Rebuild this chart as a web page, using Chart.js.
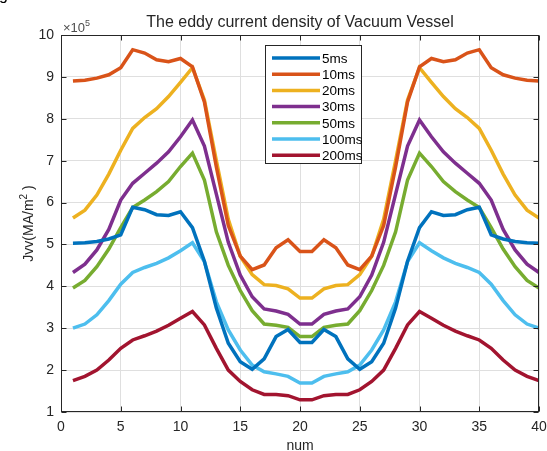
<!DOCTYPE html>
<html>
<head>
<meta charset="utf-8">
<script src="https://cdn.jsdelivr.net/npm/chart.js@4.4.1/dist/chart.umd.min.js"></script>
<style>
  html, body { margin: 0; padding: 0; background: #fff; }
  #wrap { width: 547px; height: 451px; }
</style>
</head>
<body>
<div id="wrap"><canvas id="eddyChart" width="547" height="451"></canvas></div>
<script>
// x positions (num) and eddy current density, in units of 1e5 MA/m^2
const num = [1, 2, 3, 4, 5, 6, 7, 8, 9, 10, 11, 12, 13, 14, 15, 16, 17, 18, 19, 20,
  21, 22, 23, 24, 25, 26, 27, 28, 29, 30, 31, 32, 33, 34, 35, 36, 37, 38, 39, 40];

const jvv5ms = [5.03, 5.04, 5.07, 5.13, 5.23, 5.89, 5.83, 5.71, 5.69, 5.78, 5.40, 4.60, 3.48, 2.64, 2.20, 2.02, 2.27, 2.80, 2.97, 2.66,
  2.66, 2.97, 2.80, 2.27, 2.02, 2.20, 2.64, 3.48, 4.60, 5.40, 5.78, 5.69, 5.71, 5.83, 5.89, 5.23, 5.13, 5.07, 5.04, 5.03];
const jvv10ms = [8.90, 8.92, 8.97, 9.05, 9.22, 9.65, 9.57, 9.41, 9.36, 9.44, 9.24, 8.40, 6.85, 5.45, 4.72, 4.40, 4.51, 4.92, 5.11, 4.83,
  4.83, 5.11, 4.92, 4.51, 4.40, 4.72, 5.45, 6.85, 8.40, 9.24, 9.44, 9.36, 9.41, 9.57, 9.65, 9.22, 9.05, 8.97, 8.92, 8.90];
const jvv20ms = [5.63, 5.82, 6.18, 6.68, 7.25, 7.77, 8.03, 8.24, 8.53, 8.87, 9.22, 8.45, 7.00, 5.60, 4.72, 4.28, 4.04, 4.02, 3.94, 3.72,
  3.72, 3.94, 4.02, 4.04, 4.28, 4.72, 5.60, 7.00, 8.45, 9.22, 8.87, 8.53, 8.24, 8.03, 7.77, 7.25, 6.68, 6.18, 5.82, 5.63];
const jvv30ms = [4.33, 4.53, 4.87, 5.36, 6.06, 6.46, 6.70, 6.94, 7.21, 7.57, 7.97, 7.35, 6.20, 5.05, 4.27, 3.75, 3.46, 3.41, 3.33, 3.10,
  3.10, 3.33, 3.41, 3.46, 3.75, 4.27, 5.05, 6.20, 7.35, 7.97, 7.57, 7.21, 6.94, 6.70, 6.46, 6.06, 5.36, 4.87, 4.53, 4.33];
const jvv50ms = [3.96, 4.14, 4.47, 4.89, 5.40, 5.88, 6.06, 6.26, 6.50, 6.86, 7.18, 6.54, 5.30, 4.50, 3.90, 3.42, 3.10, 3.07, 3.02, 2.80,
  2.80, 3.02, 3.07, 3.10, 3.42, 3.90, 4.50, 5.30, 6.54, 7.18, 6.86, 6.50, 6.26, 6.06, 5.88, 5.40, 4.89, 4.47, 4.14, 3.96];
const jvv100ms = [3.00, 3.10, 3.32, 3.66, 4.05, 4.33, 4.45, 4.55, 4.68, 4.85, 5.04, 4.59, 3.63, 2.96, 2.48, 2.12, 1.96, 1.91, 1.85, 1.69,
  1.69, 1.85, 1.91, 1.96, 2.12, 2.48, 2.96, 3.63, 4.59, 5.04, 4.85, 4.68, 4.55, 4.45, 4.33, 4.05, 3.66, 3.32, 3.10, 3.00];
const jvv200ms = [1.75, 1.85, 2.00, 2.24, 2.52, 2.72, 2.82, 2.93, 3.07, 3.24, 3.40, 3.08, 2.52, 2.00, 1.73, 1.53, 1.42, 1.42, 1.39, 1.29,
  1.29, 1.39, 1.42, 1.42, 1.53, 1.73, 2.00, 2.52, 3.08, 3.40, 3.24, 3.07, 2.93, 2.82, 2.72, 2.52, 2.24, 2.00, 1.85, 1.75];

const seriesNames = ['5ms', '10ms', '20ms', '30ms', '50ms', '100ms', '200ms'];
const seriesValues = [jvv5ms, jvv10ms, jvv20ms, jvv30ms, jvv50ms, jvv100ms, jvv200ms];
const xTicks = [0, 5, 10, 15, 20, 25, 30, 35, 40];
const yTicks = [1, 2, 3, 4, 5, 6, 7, 8, 9, 10];

// MATLAB default line colours
const colors = ['#0072BD', '#D95319', '#EDB120', '#7E2F8E', '#77AC30', '#4DBEEE', '#A2142F'];
const FONT = '"Liberation Sans", Arial, Helvetica, sans-serif';
const AXIS = '#262626';

const datasets = seriesNames.map((name, k) => ({
  label: name,
  data: num.map((x, i) => ({ x: x, y: seriesValues[k][i] })),
  borderColor: colors[k],
  backgroundColor: colors[k],
  borderWidth: 3.5,
  pointRadius: 0,
  tension: 0,
  fill: false
}));

// draws the matlab-ish box, tick marks, title, labels and legend
const matlabDecor = {
  id: 'matlabDecor',
  afterDraw(chart) {
    const ctx = chart.ctx;
    const a = chart.chartArea;
    const xs = chart.scales.x, ys = chart.scales.y;
    const L = Math.round(a.left) + 0.5, R = Math.round(a.right) - 0.5;
    const T = Math.round(a.top) + 0.5, B = Math.round(a.bottom) - 0.5;
    ctx.save();

    // tick marks pointing inward
    ctx.strokeStyle = AXIS;
    ctx.lineWidth = 1;
    ctx.beginPath();
    xTicks.forEach(v => {
      const px = Math.round(xs.getPixelForValue(v)) + 0.5;
      ctx.moveTo(px, B); ctx.lineTo(px, B - 5);
      ctx.moveTo(px, T); ctx.lineTo(px, T + 5);
    });
    yTicks.forEach(v => {
      const py = Math.round(ys.getPixelForValue(v)) + 0.5;
      ctx.moveTo(L, py); ctx.lineTo(L + 5, py);
      ctx.moveTo(R, py); ctx.lineTo(R - 5, py);
    });
    ctx.stroke();
    ctx.strokeRect(L, T, R - L, B - T);

    // title
    ctx.fillStyle = AXIS;
    ctx.font = '16px ' + FONT;
    ctx.textAlign = 'center';
    ctx.textBaseline = 'alphabetic';
    ctx.fillText('The eddy current density of Vacuum Vessel', (a.left + a.right) / 2, 27);

    // exponent label
    ctx.fillStyle = '#4d4d4d';
    ctx.textAlign = 'left';
    ctx.font = '13px ' + FONT;
    ctx.fillText('\u00d710', a.left + 2, 32);
    ctx.font = '9px ' + FONT;
    ctx.fillText('5', a.left + 24, 26);

    // x label
    ctx.fillStyle = AXIS;
    ctx.font = '14px ' + FONT;
    ctx.textAlign = 'center';
    ctx.fillText('num', (a.left + a.right) / 2, 450);

    // y label with superscript
    ctx.save();
    ctx.translate(33, (a.top + a.bottom) / 2);
    ctx.rotate(-Math.PI / 2);
    ctx.textAlign = 'left';
    const p1 = 'Jvv(MA/m', p3 = ' )';
    ctx.font = '14px ' + FONT;
    const w1 = ctx.measureText(p1).width;
    const w3 = ctx.measureText(p3).width;
    ctx.font = '10px ' + FONT;
    const w2 = ctx.measureText('2').width;
    const start = -(w1 + w2 + w3) / 2;
    ctx.font = '14px ' + FONT;
    ctx.fillText(p1, start, 0);
    ctx.font = '10px ' + FONT;
    ctx.fillText('2', start + w1, -6);
    ctx.font = '14px ' + FONT;
    ctx.fillText(p3, start + w1 + w2, 0);
    ctx.restore();

    // legend
    const lx = 265.5, ly = 45.5, lw = 96, lh = 118;
    ctx.fillStyle = '#ffffff';
    ctx.fillRect(lx, ly, lw, lh);
    ctx.strokeStyle = AXIS;
    ctx.lineWidth = 1;
    ctx.strokeRect(lx, ly, lw, lh);
    ctx.font = '13.5px ' + FONT;
    ctx.textAlign = 'left';
    ctx.textBaseline = 'middle';
    seriesNames.forEach((name, k) => {
      const yy = 58 + k * 16.2;
      ctx.strokeStyle = colors[k];
      ctx.lineWidth = 3.5;
      ctx.beginPath();
      ctx.moveTo(272, yy); ctx.lineTo(320, yy);
      ctx.stroke();
      ctx.fillStyle = '#000000';
      ctx.fillText(name, 322, yy + 1);
    });

    // cropped caption glyph at the top-left corner
    ctx.fillStyle = '#000000';
    ctx.font = '16px ' + FONT;
    ctx.textBaseline = 'alphabetic';
    ctx.fillText('g', -1, 0);
    ctx.restore();
  }
};

new Chart(document.getElementById('eddyChart').getContext('2d'), {
  type: 'line',
  data: { datasets: datasets },
  options: {
    responsive: false,
    animation: false,
    devicePixelRatio: 1,
    layout: { padding: { top: 35, right: 8, left: 0, bottom: 0 } },
    plugins: {
      legend: { display: false },
      title: { display: false },
      tooltip: { enabled: false }
    },
    scales: {
      x: {
        type: 'linear',
        min: 0,
        max: 40,
        afterBuildTicks: s => { s.ticks = xTicks.map(v => ({ value: v })); },
        afterFit: s => { s.height = 39; s.paddingLeft = 0; s.paddingRight = 0; },
        ticks: { color: AXIS, font: { family: FONT, size: 14 }, padding: 7, maxRotation: 0 },
        grid: { color: '#dfdfdf', drawTicks: false },
        border: { display: false }
      },
      y: {
        type: 'linear',
        min: 1,
        max: 10,
        afterBuildTicks: s => { s.ticks = yTicks.map(v => ({ value: v })); },
        afterFit: s => { s.width = 61; s.paddingTop = 0; s.paddingBottom = 0; },
        ticks: { color: AXIS, font: { family: FONT, size: 14 }, padding: 7 },
        grid: { color: '#dfdfdf', drawTicks: false },
        border: { display: false }
      }
    }
  },
  plugins: [matlabDecor]
});
</script>
</body>
</html>
